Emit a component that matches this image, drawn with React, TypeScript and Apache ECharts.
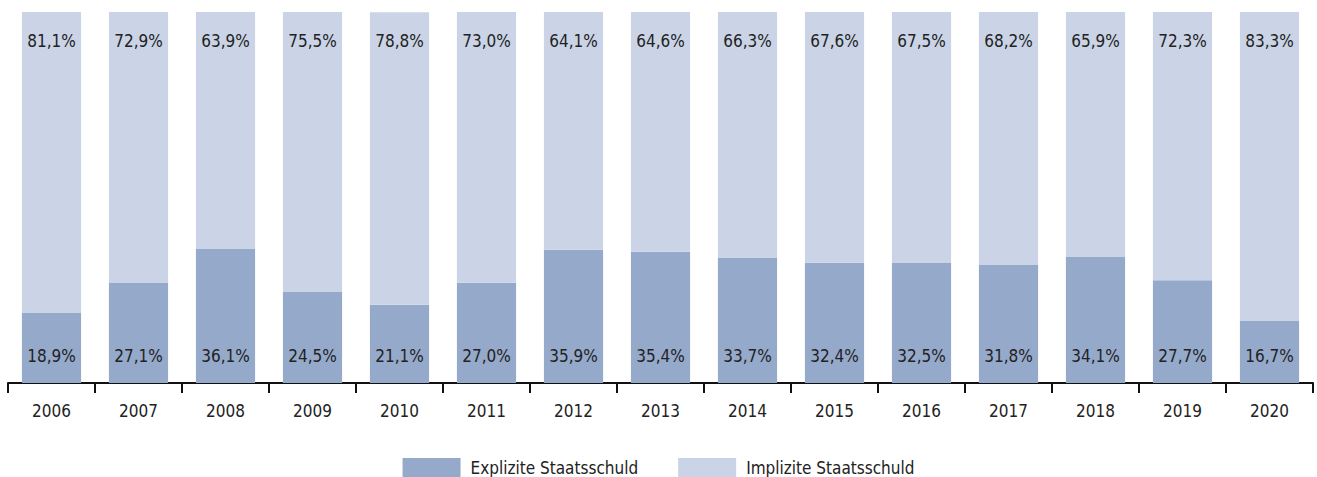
import React, { useEffect, useRef } from "react";
import * as echarts from "echarts";

const years = ["2006", "2007", "2008", "2009", "2010", "2011", "2012", "2013", "2014", "2015", "2016", "2017", "2018", "2019", "2020"];
const explicitDebt = [18.9, 27.1, 36.1, 24.5, 21.1, 27.0, 35.9, 35.4, 33.7, 32.4, 32.5, 31.8, 34.1, 27.7, 16.7];
const implicitDebt = [81.1, 72.9, 63.9, 75.5, 78.8, 73.0, 64.1, 64.6, 66.3, 67.6, 67.5, 68.2, 65.9, 72.3, 83.3];
const seriesNames = ["Explizite Staatsschuld", "Implizite Staatsschuld"];

const FONT = "'Liberation Sans Narrow', 'DejaVu Sans Condensed', 'Arial Narrow', sans-serif";
const fmt = (v: number) => v.toFixed(1).replace(".", ",") + "%";

export default function App() {
  const ref = useRef<HTMLDivElement>(null);
  useEffect(() => {
    document.body.style.margin = "0";
    const chart = echarts.init(ref.current!, undefined, { renderer: "svg" });
    chart.setOption({
      animation: false,
      textStyle: { fontFamily: FONT },
      grid: { left: 8, right: 4, top: 12, bottom: 94, containLabel: false },
      legend: {
        bottom: -6,
        left: "center",
        itemWidth: 58,
        itemHeight: 20,
        itemGap: 40,
        icon: "rect",
        textStyle: { fontFamily: FONT, fontSize: 17, color: "#222", padding: [0, 0, 0, 5] },
        data: seriesNames,
      },
      xAxis: {
        type: "category",
        data: years,
        axisLine: { lineStyle: { color: "#111", width: 2 } },
        axisTick: { show: true, length: 10, lineStyle: { color: "#111", width: 2 } },
        axisLabel: { color: "#222", fontSize: 17, margin: 19, fontFamily: FONT },
      },
      yAxis: {
        type: "value",
        min: 0,
        max: 100,
        show: false,
        splitLine: { show: false },
      },
      series: [
        {
          name: seriesNames[0],
          type: "bar",
          stack: "total",
          data: explicitDebt,
          barCategoryGap: "32%",
          itemStyle: { color: "#95a9ca" },
          label: {
            show: true,
            position: "insideBottom",
            distance: 19,
            formatter: (p: any) => fmt(p.value),
            color: "#222",
            fontSize: 17,
            fontFamily: FONT,
          },
        },
        {
          name: seriesNames[1],
          type: "bar",
          stack: "total",
          data: implicitDebt,
          itemStyle: { color: "#cad4e6" },
          label: {
            show: true,
            position: "insideTop",
            distance: 20,
            formatter: (p: any) => fmt(p.value),
            color: "#222",
            fontSize: 17,
            fontFamily: FONT,
          },
        },
      ],
    });
    return () => chart.dispose();
  }, []);
  return <div ref={ref} style={{ width: 1317, height: 477 }} />;
}
